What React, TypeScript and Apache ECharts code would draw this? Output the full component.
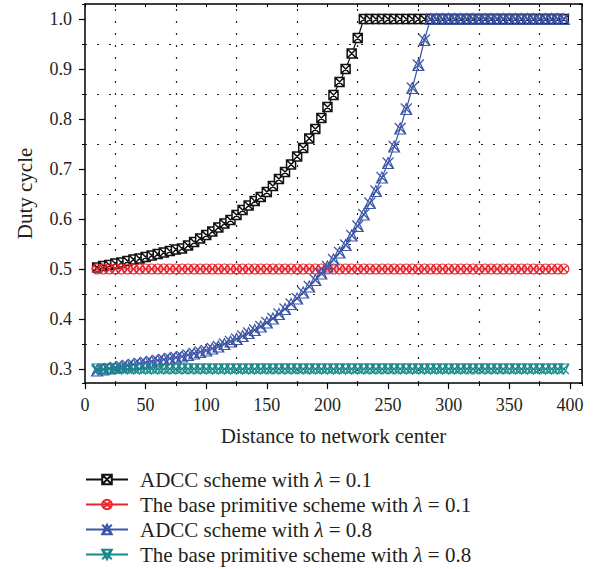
import React, { useEffect, useRef } from 'react';
import * as echarts from 'echarts';

// Distance to network center (x values of the plotted points)
const xs = [
  10, 15, 20, 25, 30, 35, 40, 45, 50, 55, 60, 65, 70,
  75, 80, 85, 90, 95, 100, 105, 110, 115, 120, 125, 130,
  135, 140, 145, 150, 155, 160, 165, 170, 175, 180, 185, 190,
  195, 200, 205, 210, 215, 220, 225, 230, 235, 240, 245, 250,
  255, 260, 265, 270, 275, 280, 285, 290, 295, 300, 305, 310,
  315, 320, 325, 330, 335, 340, 345, 350, 355, 360, 365, 370,
  375, 380, 385, 390, 395,
];

const adccLow = [
  0.503, 0.506, 0.508, 0.511, 0.513, 0.516, 0.519, 0.521, 0.524, 0.527, 0.53, 0.533, 0.536,
  0.539, 0.541, 0.547, 0.554, 0.561, 0.568, 0.575, 0.583, 0.591, 0.598, 0.608, 0.618,
  0.627, 0.636, 0.644, 0.654, 0.666, 0.68, 0.694, 0.709, 0.725, 0.742, 0.761, 0.78,
  0.802, 0.824, 0.848, 0.874, 0.9, 0.931, 0.962, 1.0, 1.0, 1.0, 1.0, 1.0,
  1.0, 1.0, 1.0, 1.0, 1.0, 1.0, 1.0, 1.0, 1.0, 1.0, 1.0, 1.0,
  1.0, 1.0, 1.0, 1.0, 1.0, 1.0, 1.0, 1.0, 1.0, 1.0, 1.0, 1.0,
  1.0, 1.0, 1.0, 1.0, 1.0,
];

const baseLow = [
  0.5, 0.5, 0.5, 0.5, 0.5, 0.5, 0.5, 0.5, 0.5, 0.5, 0.5, 0.5, 0.5,
  0.5, 0.5, 0.5, 0.5, 0.5, 0.5, 0.5, 0.5, 0.5, 0.5, 0.5, 0.5,
  0.5, 0.5, 0.5, 0.5, 0.5, 0.5, 0.5, 0.5, 0.5, 0.5, 0.5, 0.5,
  0.5, 0.5, 0.5, 0.5, 0.5, 0.5, 0.5, 0.5, 0.5, 0.5, 0.5, 0.5,
  0.5, 0.5, 0.5, 0.5, 0.5, 0.5, 0.5, 0.5, 0.5, 0.5, 0.5, 0.5,
  0.5, 0.5, 0.5, 0.5, 0.5, 0.5, 0.5, 0.5, 0.5, 0.5, 0.5, 0.5,
  0.5, 0.5, 0.5, 0.5, 0.5,
];

const adccHigh = [
  0.297, 0.299, 0.301, 0.303, 0.305, 0.307, 0.309, 0.311, 0.313, 0.315, 0.317, 0.319, 0.321,
  0.323, 0.325, 0.328, 0.331, 0.334, 0.337, 0.341, 0.345, 0.35, 0.355, 0.36, 0.366,
  0.372, 0.378, 0.385, 0.393, 0.401, 0.41, 0.42, 0.43, 0.441, 0.453, 0.465, 0.478,
  0.491, 0.505, 0.519, 0.533, 0.548, 0.567, 0.586, 0.609, 0.632, 0.656, 0.683, 0.712,
  0.745, 0.781, 0.82, 0.862, 0.908, 0.958, 1.0, 1.0, 1.0, 1.0, 1.0, 1.0,
  1.0, 1.0, 1.0, 1.0, 1.0, 1.0, 1.0, 1.0, 1.0, 1.0, 1.0, 1.0,
  1.0, 1.0, 1.0, 1.0, 1.0,
];

const baseHigh = [
  0.3, 0.3, 0.3, 0.3, 0.3, 0.3, 0.3, 0.3, 0.3, 0.3, 0.3, 0.3, 0.3,
  0.3, 0.3, 0.3, 0.3, 0.3, 0.3, 0.3, 0.3, 0.3, 0.3, 0.3, 0.3,
  0.3, 0.3, 0.3, 0.3, 0.3, 0.3, 0.3, 0.3, 0.3, 0.3, 0.3, 0.3,
  0.3, 0.3, 0.3, 0.3, 0.3, 0.3, 0.3, 0.3, 0.3, 0.3, 0.3, 0.3,
  0.3, 0.3, 0.3, 0.3, 0.3, 0.3, 0.3, 0.3, 0.3, 0.3, 0.3, 0.3,
  0.3, 0.3, 0.3, 0.3, 0.3, 0.3, 0.3, 0.3, 0.3, 0.3, 0.3, 0.3,
  0.3, 0.3, 0.3, 0.3, 0.3,
];

const seriesNames = [
  'ADCC scheme with λ = 0.1',
  'The base primitive scheme with λ = 0.1',
  'ADCC scheme with λ = 0.8',
  'The base primitive scheme with λ = 0.8',
];

// dotted grid lines sit halfway between the labelled ticks
const gridX = [25, 75, 125, 175, 225, 275, 325, 375];
const gridY = [0.35, 0.45, 0.55, 0.65, 0.75, 0.85, 0.95];

const X_MIN = 0;
const X_MAX = 410;
const Y_MIN = 0.272;
const Y_MAX = 1.03;

const FONT = "'Liberation Serif', 'Times New Roman', serif";
const TXT = '#231f20';

const SYM_SQUARE_X = 'path://M0,0H10V10H0ZM0,0L10,10M10,0L0,10';
const SYM_CIRCLE_X = 'path://M10,5A5,5,0,1,1,0,5A5,5,0,1,1,10,5ZM1.5,1.5L8.5,8.5M8.5,1.5L1.5,8.5';
const SYM_TRI_UP_X = 'path://M0,10L5,0L10,10ZM0,0L10,10M10,0L0,10';
const SYM_TRI_DOWN_X = 'path://M0,0L5,10L10,0ZM0,0L10,10M10,0L0,10';

function pairs(vals: number[]) {
  return xs.map((x, i) => [x, vals[i]]);
}

export default function App() {
  const ref = useRef<HTMLDivElement>(null);
  useEffect(() => {
    const chart = echarts.init(ref.current!, null, { renderer: 'svg' });
    const mkSeries = (
      name: string,
      vals: number[],
      color: string,
      symbol: string,
      size: number,
      fill: string,
      width: number,
      border: number,
      extra: any = {}
    ) => ({
      name,
      type: 'line',
      data: pairs(vals),
      symbol,
      symbolSize: size,
      showAllSymbol: true,
      lineStyle: { color, width },
      itemStyle: { color: fill, borderColor: color, borderWidth: border },
      emphasis: { disabled: true },
      ...extra,
    });

    const option: any = {
      animation: false,
      textStyle: { fontFamily: FONT },
      grid: { left: 85, right: 12, top: 4, bottom: 186, containLabel: false },
      legend: {
        orient: 'vertical',
        left: 85,
        top: 469,
        padding: 0,
        itemWidth: 42,
        itemHeight: 12,
        itemGap: 4,
        selectedMode: false,
        data: seriesNames,
        formatter: (n: string) => n.replace('λ', '{i|λ}'),
        textStyle: {
          fontFamily: FONT,
          fontSize: 21,
          color: TXT,
          padding: [0, 0, 0, 7],
          rich: {
            i: { fontFamily: FONT, fontSize: 21, fontStyle: 'italic', color: TXT },
          },
        },
      },
      xAxis: [
        {
          type: 'value',
          position: 'bottom',
          min: X_MIN,
          max: X_MAX,
          interval: 50,
          axisLine: { show: true, onZero: false, lineStyle: { color: '#000', width: 1.5 } },
          axisTick: { show: true, inside: false, length: 6, lineStyle: { color: '#000', width: 1.2 } },
          axisLabel: { showMaxLabel: false, fontFamily: FONT, fontSize: 18, color: TXT, margin: 13 },
          splitLine: { show: false },
          name: 'Distance to network center',
          nameLocation: 'middle',
          nameGap: 42,
          nameTextStyle: { fontFamily: FONT, fontSize: 21, color: TXT },
        },
        {
          type: 'value',
          position: 'bottom',
          min: X_MIN,
          max: X_MAX,
          interval: 25,
          axisLine: { show: false },
          axisTick: { show: true, inside: false, length: 3, lineStyle: { color: '#000', width: 1 } },
          axisLabel: { show: false },
          splitLine: { show: false },
        },
        {
          type: 'value',
          position: 'top',
          min: X_MIN,
          max: X_MAX,
          interval: 25,
          axisLine: { show: true, onZero: false, lineStyle: { color: '#000', width: 1.5 } },
          axisTick: { show: true, inside: true, length: 3, lineStyle: { color: '#000', width: 1 } },
          axisLabel: { show: false },
          splitLine: { show: false },
        },
      ],
      yAxis: [
        {
          type: 'value',
          position: 'left',
          min: Y_MIN,
          max: Y_MAX,
          splitNumber: 7,
          axisLine: { show: true, onZero: false, lineStyle: { color: '#000', width: 1.5 } },
          axisTick: { show: true, inside: false, length: 6, lineStyle: { color: '#000', width: 1.2 } },
          axisLabel: {
            showMinLabel: false,
            showMaxLabel: false,
            fontFamily: FONT,
            fontSize: 18,
            color: TXT,
            margin: 13,
            formatter: (v: number) => v.toFixed(1),
          },
          splitLine: { show: false },
          name: 'Duty cycle',
          nameLocation: 'middle',
          nameGap: 50,
          nameRotate: 90,
          nameTextStyle: { fontFamily: FONT, fontSize: 21, color: TXT },
        },
        {
          type: 'value',
          position: 'left',
          min: Y_MIN,
          max: Y_MAX,
          splitNumber: 13,
          axisLine: { show: false },
          axisTick: { show: true, inside: false, length: 3, lineStyle: { color: '#000', width: 1 } },
          axisLabel: { show: false },
          splitLine: { show: false },
        },
        {
          type: 'value',
          position: 'right',
          min: Y_MIN,
          max: Y_MAX,
          splitNumber: 13,
          axisLine: { show: true, onZero: false, lineStyle: { color: '#000', width: 1.5 } },
          axisTick: { show: true, inside: true, length: 3, lineStyle: { color: '#000', width: 1 } },
          axisLabel: { show: false },
          splitLine: { show: false },
        },
      ],
      series: [
        mkSeries(seriesNames[0], adccLow, '#111111', SYM_SQUARE_X, 9, '#ffffff', 1.2, 1.5, {
          markLine: {
            silent: true,
            z: 1,
            symbol: ['none', 'none'],
            label: { show: false },
            lineStyle: { color: '#222', width: 1.2, type: [2, 10] },
            emphasis: { disabled: true },
            data: [
              ...gridX.map((v) => ({ xAxis: v })),
              ...gridY.map((v) => ({ yAxis: v })),
            ],
          },
        }),
        mkSeries(seriesNames[1], baseLow, '#e8262d', SYM_CIRCLE_X, 10, 'rgba(255,255,255,0)', 1, 1.2),
        mkSeries(seriesNames[2], adccHigh, '#3d56a8', SYM_TRI_UP_X, 11, 'rgba(255,255,255,0)', 1.2, 1.2),
        mkSeries(seriesNames[3], baseHigh, '#16898a', SYM_TRI_DOWN_X, 10, 'rgba(255,255,255,0)', 1, 1.2),
      ],
    };
    chart.setOption(option);
    return () => chart.dispose();
  }, []);
  return (
    <div
      ref={ref}
      style={{ position: 'absolute', left: 0, top: 0, width: 594, height: 569, background: '#fff' }}
    />
  );
}
